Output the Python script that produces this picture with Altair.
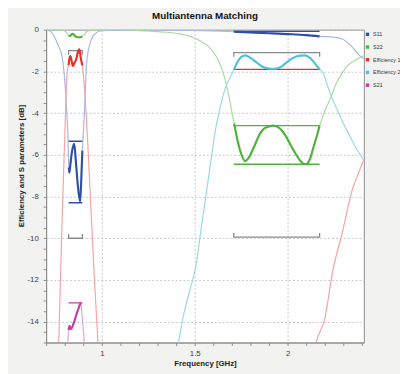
import altair as alt
import pandas as pd

# ---------------- data ----------------
SERIES = ["S11", "S22", "Efficiency 1", "Efficiency 2", "S21"]
COLORS = ["#2f4fa8", "#4db33a", "#e8302a", "#4cc3d6", "#c23fa0"]
LIGHT = ["#a9b7e3", "#a9da9d", "#f6a3a3", "#98d8e6", "#e3a6d3"]

BAND1 = [0.821, 0.895]
BAND2 = [1.71, 2.172]

# S11
S11_A_F = [0.70, 0.72, 0.742, 0.765, 0.786, 0.796, 0.804, 0.811, 0.817, 0.822]
S11_A_DB = [0.0, -0.05, -0.3, -0.75, -1.3, -2.0, -2.9, -3.9, -5.0, -6.6]
S11_B_F = [0.822, 0.825, 0.830, 0.840, 0.851, 0.860, 0.870, 0.883, 0.890, 0.895]
S11_B_DB = [-6.6, -6.85, -6.5, -5.8, -5.47, -6.3, -7.4, -8.24, -7.0, -5.8]
S11_C_F = [0.895, 0.900, 0.906, 0.912, 0.917, 0.925, 0.935, 0.944, 0.96, 0.98, 1.0, 1.1, 1.3, 1.5, 1.71]
S11_C_DB = [-5.8, -5.0, -4.0, -2.7, -1.7, -1.1, -0.7, -0.45, -0.22, -0.1, -0.05, -0.02, -0.02, -0.04, -0.1]
S11_D_F = [1.71, 1.8, 1.9, 2.0, 2.1, 2.172]
S11_D_DB = [-0.1, -0.13, -0.17, -0.21, -0.26, -0.32]
S11_E_F = [2.172, 2.2, 2.25, 2.295, 2.32, 2.347, 2.374, 2.41]
S11_E_DB = [-0.32, -0.33, -0.36, -0.45, -0.6, -0.82, -1.12, -1.4]

# S22
S22_A_F = [0.70, 0.77, 0.795, 0.808, 0.815, 0.821]
S22_A_DB = [0.0, -0.01, -0.04, -0.12, -0.22, -0.3]
S22_B_F = [0.821, 0.828, 0.835, 0.843, 0.850, 0.858, 0.870, 0.882, 0.895]
S22_B_DB = [-0.3, -0.3, -0.24, -0.2, -0.24, -0.32, -0.36, -0.36, -0.33]
S22_C_F = [0.895, 0.905, 0.917, 0.93, 0.944, 1.0, 1.1, 1.242, 1.33, 1.416, 1.46, 1.505, 1.54,
           1.574, 1.60, 1.626, 1.645, 1.663, 1.677, 1.69, 1.70, 1.712]
S22_C_DB = [-0.33, -0.25, -0.1, -0.05, -0.03, -0.01, 0.0, -0.06, -0.11, -0.19, -0.28, -0.42, -0.6,
            -0.8, -1.08, -1.44, -1.85, -2.38, -2.9, -3.47, -3.95, -4.5]
S22_D_F = [1.712, 1.73, 1.75, 1.772, 1.79, 1.82, 1.85, 1.88, 1.926, 1.96, 1.99, 2.02, 2.05,
           2.08, 2.098, 2.12, 2.14, 2.16, 2.172]
S22_D_DB = [-4.5, -5.3, -5.95, -6.3, -6.15, -5.6, -5.0, -4.7, -4.6, -4.75, -5.1, -5.6, -6.05,
            -6.4, -6.45, -6.2, -5.6, -5.0, -4.6]
S22_E_F = [2.172, 2.18, 2.2, 2.23, 2.26, 2.295, 2.32, 2.347, 2.38, 2.41]
S22_E_DB = [-4.6, -4.4, -3.9, -3.3, -2.6, -2.06, -1.75, -1.55, -1.38, -1.25]

# Efficiency 1
EF1_A_F = [0.758, 0.768, 0.786, 0.800, 0.812, 0.821]
EF1_A_DB = [-18.0, -15.0, -9.1, -5.2, -2.2, -1.7]
EF1_B_F = [0.821, 0.826, 0.831, 0.837, 0.844, 0.852, 0.862, 0.870, 0.879, 0.886, 0.895]
EF1_B_DB = [-1.7, -1.35, -1.27, -1.5, -1.74, -1.6, -1.42, -1.1, -0.94, -1.33, -1.72]
EF1_C_F = [0.895, 0.905, 0.925, 0.944, 0.962, 0.979, 0.99]
EF1_C_DB = [-1.72, -2.6, -5.6, -9.1, -12.3, -15.0, -17.0]
EF1_D_F = [2.13, 2.153, 2.2, 2.242, 2.295, 2.347, 2.38, 2.41]
EF1_D_DB = [-16.0, -15.0, -13.85, -11.6, -9.7, -7.7, -6.9, -6.25]

# Efficiency 2
EF2_A_F = [1.39, 1.412, 1.437, 1.47, 1.505, 1.535, 1.567, 1.59, 1.61, 1.635, 1.663, 1.69, 1.712]
EF2_A_DB = [-15.6, -15.0, -13.8, -12.6, -11.4, -9.5, -7.53, -6.1, -4.88, -3.8, -2.85, -2.3, -1.9]
EF2_B_F = [1.712, 1.73, 1.75, 1.772, 1.80, 1.83, 1.86, 1.89, 1.926, 1.96, 1.99, 2.02, 2.05,
           2.093, 2.12, 2.145, 2.172]
EF2_B_DB = [-1.9, -1.55, -1.3, -1.23, -1.35, -1.55, -1.75, -1.85, -1.88, -1.8, -1.6, -1.4, -1.27,
            -1.23, -1.35, -1.6, -1.9]
EF2_C_F = [2.172, 2.19, 2.215, 2.24, 2.27, 2.30, 2.34, 2.37, 2.41]
EF2_C_DB = [-1.9, -2.05, -2.7, -3.3, -3.9, -4.5, -5.2, -5.7, -6.25]

# S21
S21_A_F = [0.813, 0.817, 0.821]
S21_A_DB = [-16.0, -15.0, -14.4]
S21_B_F = [0.821, 0.826, 0.832, 0.838, 0.845, 0.851, 0.858, 0.865, 0.871, 0.877, 0.883, 0.888]
S21_B_DB = [-14.4, -14.2, -14.35, -14.3, -14.15, -14.0, -13.8, -13.6, -13.45, -13.3, -13.15, -13.1]
S21_C_F = [0.888, 0.895, 0.905, 0.91]
S21_C_DB = [-13.1, -13.9, -15.0, -16.0]

# goals (band, level, series colour)
GOAL_BAND = ["b1", "b1", "b1", "b2", "b2", "b2", "b2"]
GOAL_LEVEL = [-5.35, -8.3, -13.1, -0.08, -1.9, -4.6, -6.45]
GOAL_SERIES = ["S11", "S11", "S21", "S11", "Efficiency 1", "S22", "S22"]

# gray brackets (band, level, tip direction: -1 tips down, +1 tips up)
BR_BAND = ["b1", "b1", "b2", "b2"]
BR_LEVEL = [-1.0, -10.0, -1.1, -9.95]
BR_DIR = [-1, 1, -1, 1]
BR_TIP = 0.2

# ---------------- build tables ----------------
SEGMENTS = [
    ("S11", "thin", S11_A_F, S11_A_DB), ("S11", "thick", S11_B_F, S11_B_DB),
    ("S11", "thin", S11_C_F, S11_C_DB), ("S11", "thick", S11_D_F, S11_D_DB),
    ("S11", "thin", S11_E_F, S11_E_DB),
    ("S22", "thin", S22_A_F, S22_A_DB), ("S22", "thick", S22_B_F, S22_B_DB),
    ("S22", "thin", S22_C_F, S22_C_DB), ("S22", "thick", S22_D_F, S22_D_DB),
    ("S22", "thin", S22_E_F, S22_E_DB),
    ("Efficiency 1", "thin", EF1_A_F, EF1_A_DB), ("Efficiency 1", "thick", EF1_B_F, EF1_B_DB),
    ("Efficiency 1", "thin", EF1_C_F, EF1_C_DB), ("Efficiency 1", "thin", EF1_D_F, EF1_D_DB),
    ("Efficiency 2", "thin", EF2_A_F, EF2_A_DB), ("Efficiency 2", "thick", EF2_B_F, EF2_B_DB),
    ("Efficiency 2", "thin", EF2_C_F, EF2_C_DB),
    ("S21", "thin", S21_A_F, S21_A_DB), ("S21", "thick", S21_B_F, S21_B_DB),
    ("S21", "thin", S21_C_F, S21_C_DB),
]

rows = []
for sid, (name, kind, F, D) in enumerate(SEGMENTS):
    for i, (f, d) in enumerate(zip(F, D)):
        rows.append(dict(f=f, db=d, series=name, seg=sid, ord=i, kind=kind))
df = pd.DataFrame(rows)
thin_df = df[df.kind == "thin"]
thick_df = df[df.kind == "thick"]

BANDS = {"b1": BAND1, "b2": BAND2}
color_of = dict(zip(SERIES, COLORS))
goal_df = pd.DataFrame([
    dict(f=BANDS[b][0], f2=BANDS[b][1], db=lv, col=color_of[s])
    for b, lv, s in zip(GOAL_BAND, GOAL_LEVEL, GOAL_SERIES)
])

br_rows = []
for k, (b, lv, dr) in enumerate(zip(BR_BAND, BR_LEVEL, BR_DIR)):
    f1, f2 = BANDS[b]
    pts = [(f1, lv + dr * BR_TIP), (f1, lv), (f2, lv), (f2, lv + dr * BR_TIP)]
    for i, (f, d) in enumerate(pts):
        br_rows.append(dict(f=f, db=d, seg=k, ord=i))
br_df = pd.DataFrame(br_rows)

leg_df = pd.DataFrame({"f": [0.0] * 5, "db": [0.0] * 5, "series": SERIES})

# ---------------- axes / scales ----------------
FONT = "Liberation Sans"
x_vals = [round(0.7 + 0.1 * i, 2) for i in range(18)]
y_vals = [-15 + 0.5 * i for i in range(31)]
x_major = "abs(datum.value*2 - round(datum.value*2)) < 0.01 && datum.value > 0.75"
y_major = "abs(datum.value/2 - round(datum.value/2)) < 0.01"

XAXIS = alt.Axis(
    values=x_vals, labelExpr=f"({x_major}) ? toString(datum.value) : ''",
    gridOpacity={"condition": {"test": x_major, "value": 1}, "value": 0},
    title="Frequency [GHz]", titleY=22, titleBaseline="middle",
    labelPadding=4, labelOverlap=False,
)
YAXIS = alt.Axis(
    values=y_vals, labelExpr=f"({y_major}) ? toString(datum.value) : ''",
    gridOpacity={"condition": {"test": y_major, "value": 1}, "value": 0},
    title="Efficiency and S parameters [dB]", titleX=-25, titleY=139,
    titleAlign="center", titleBaseline="middle", titleAngle=270,
    labelPadding=5, labelOverlap=False,
)
XS = alt.Scale(domain=[0.7, 2.41], nice=False, zero=False)
YS = alt.Scale(domain=[-15, 0], nice=False, zero=False)
X = alt.X("f:Q", scale=XS, axis=XAXIS)
Y = alt.Y("db:Q", scale=YS, axis=YAXIS)

thin = alt.Chart(thin_df).mark_line(strokeWidth=1.2, clip=True, interpolate="monotone").encode(
    x=X, y=Y,
    color=alt.Color("series:N", scale=alt.Scale(domain=SERIES, range=LIGHT), legend=None),
    detail="seg:N", order="ord:Q",
)
goals = alt.Chart(goal_df).mark_rule(strokeWidth=1.4, clip=True).encode(
    x=X, x2="f2:Q", y=Y, color=alt.Color("col:N", scale=None),
)
brackets = alt.Chart(br_df).mark_line(strokeWidth=1.3, color="#8a8a8a", clip=True).encode(
    x=X, y=Y, detail="seg:N", order="ord:Q",
)
thick = alt.Chart(thick_df).mark_line(strokeWidth=2.2, clip=True, interpolate="monotone").encode(
    x=X, y=Y,
    color=alt.Color("series:N", scale=alt.Scale(domain=SERIES, range=COLORS), legend=None),
    detail="seg:N", order="ord:Q",
)
legend_pts = alt.Chart(leg_df).mark_square(filled=True, clip=True, size=14, opacity=1).encode(
    x=X, y=Y,
    color=alt.Color(
        "series:N", scale=alt.Scale(domain=SERIES, range=COLORS),
        legend=alt.Legend(
            title=None, orient="none", legendX=326, legendY=2, symbolType="square",
            symbolSize=12, symbolStrokeWidth=0, labelFontSize=5.5, labelFont=FONT,
            labelColor="#333333", labelOffset=3, rowPadding=6, padding=0, labelLimit=100,
        ),
    ),
)

chart = alt.layer(thin, goals, brackets, thick, legend_pts).resolve_scale(
    color="independent"
).properties(
    width=325, height=320,
    autosize="none",
    padding={"left": 39, "top": 18, "right": 37, "bottom": 28},
    background="#f2f2f1",
    title=alt.TitleParams(
        "Multiantenna Matching", font=FONT, fontSize=10, fontWeight="bold",
        color="#111111", anchor="middle", frame="group", offset=5,
    ),
).configure_view(
    stroke="#8c8c8c", fill="white"
).configure_axis(
    domainColor="#8c8c8c", tickColor="#8c8c8c", tickSize=3,
    gridColor="#c8c8c8", gridDash=[2, 2], gridWidth=1,
    labelFont=FONT, labelFontSize=8, labelColor="#404040",
    titleFont=FONT, titleFontSize=8, titleFontWeight="bold", titleColor="#222222",
)

chart.save("out.html", embed_options={"renderer": "svg", "actions": False})
